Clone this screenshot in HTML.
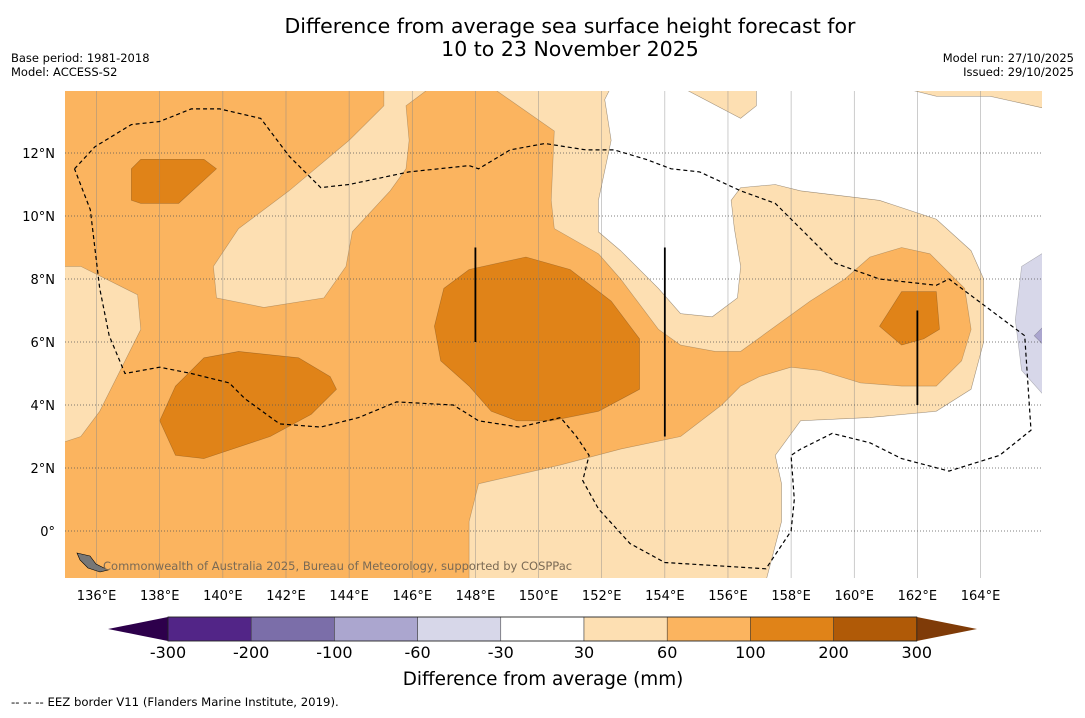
<!DOCTYPE html>
<html><head><meta charset="utf-8"><style>
body{margin:0;background:#fff;font-family:"Liberation Sans",sans-serif;}
svg text{font-family:"DejaVu Sans","Liberation Sans",sans-serif;}
</style></head><body>
<svg id="s" width="1085" height="713" xmlns="http://www.w3.org/2000/svg">
<rect width="1085" height="713" fill="#fff"/>
<text x="570" y="33" text-anchor="middle" font-size="20.5">Difference from average sea surface height forecast for</text>
<text x="570" y="56" text-anchor="middle" font-size="20.5">10 to 23 November 2025</text>
<text x="11" y="62" font-size="11.5">Base period: 1981-2018</text>
<text x="11" y="76" font-size="11.5">Model: ACCESS-S2</text>
<text x="1074" y="62" font-size="11.5" text-anchor="end">Model run: 27/10/2025</text>
<text x="1074" y="76" font-size="11.5" text-anchor="end">Issued: 29/10/2025</text>
<defs><clipPath id="mc"><rect x="65" y="91" width="977" height="487"/></clipPath></defs>
<g id="map" clip-path="url(#mc)"></g>
<g id="axes"></g>
<g id="cbar"></g>
<text x="543" y="685" text-anchor="middle" font-size="18.4">Difference from average (mm)</text>
<text x="11" y="706" font-size="11.7">--  --  -- EEZ border V11 (Flanders Marine Institute, 2019).</text>
</svg>
<script>
const lonTicks=[136,138,140,142,144,146,148,150,152,154,156,158,160,162,164];
const latTicks=[0,2,4,6,8,10,12];
const cbLevels=[-300,-200,-100,-60,-30,30,60,100,200,300];
const cbColors=["#522587","#7b6ea9","#aba6cf","#d7d7e9","#ffffff","#fddfb2","#fbb45f","#e08318","#b05a07"];
const cbExtLow="#2d004b", cbExtHigh="#7f3b08";
const lightRegions=[
[[134.9,8.4],[135.5,8.4],[137.3,7.5],[137.4,6.4],[136.1,3.8],[135.5,3.0],[134.9,2.8]],
[[139.7,8.4],[139.8,7.4],[141.3,7.1],[143.2,7.4],[143.9,8.4],[144.1,9.5],[145.3,10.8],[145.8,11.5],[145.9,12.4],[145.8,13.5],[146.6,14.1],[145.1,14.1],[145.1,13.5],[144.0,12.4],[142.1,10.8],[140.5,9.6]],
[[148.5,14.1],[150.5,12.7],[150.4,10.5],[150.5,9.6],[151.9,8.8],[152.6,8.0],[153.8,6.4],[154.5,5.9],[155.6,5.7],[156.4,5.7],[157.5,6.5],[158.6,7.3],[159.7,8.0],[160.5,8.7],[161.5,9.0],[162.4,8.8],[163.5,7.7],[163.7,6.4],[163.4,5.4],[162.6,4.6],[161.5,4.6],[160.2,4.7],[158.9,5.1],[158.0,5.2],[157.0,4.9],[156.4,4.6],[155.8,4.0],[154.5,3.0],[152.6,2.6],[150.7,2.1],[148.1,1.5],[147.8,0.3],[147.8,-1.6],[157.2,-1.6],[157.7,0.3],[157.7,1.5],[157.5,2.4],[158.3,3.5],[160.5,3.6],[162.6,3.8],[163.7,4.5],[164.1,6.0],[164.1,8.0],[163.7,8.9],[162.6,9.9],[160.8,10.5],[158.3,10.8],[157.5,11.0],[156.4,10.9],[156.1,10.5],[156.2,9.6],[156.4,8.4],[156.3,7.4],[155.5,6.8],[154.5,6.9],[153.8,7.7],[152.6,8.9],[151.9,9.5],[151.9,10.5],[152.3,12.4],[152.1,13.7],[152.3,14.1]],
[[154.5,14.1],[156.4,13.1],[156.9,13.5],[156.9,14.1]],
[[161.4,14.1],[162.6,13.8],[164.3,13.8],[166.1,13.4],[166.1,14.1]]];
const whiteRegions=[
[[152.3,14.1],[152.1,13.7],[152.3,12.4],[151.9,10.5],[151.9,9.5],[152.6,8.9],[153.8,7.7],[154.5,6.9],[155.5,6.8],[156.3,7.4],[156.4,8.4],[156.2,9.6],[156.1,10.5],[156.4,10.9],[157.5,11.0],[158.3,10.8],[160.8,10.5],[162.6,9.9],[163.7,8.9],[164.1,8.0],[164.1,6.0],[163.7,4.5],[162.6,3.8],[160.5,3.6],[158.3,3.5],[157.5,2.4],[157.7,1.5],[157.7,0.3],[157.2,-1.6],[166.1,-1.6],[166.1,13.4],[164.3,13.8],[162.6,13.8],[161.4,14.1],[156.9,14.1],[156.9,13.5],[156.4,13.1],[154.5,14.1]]];
const darkRegions=[
[[137.1,11.5],[137.4,11.8],[139.4,11.8],[139.8,11.5],[138.6,10.4],[137.4,10.4],[137.1,10.5]],
[[138.0,3.5],[138.5,4.6],[139.4,5.5],[140.5,5.7],[142.4,5.5],[143.4,4.9],[143.6,4.5],[142.8,3.7],[141.5,3.0],[139.4,2.3],[138.5,2.4]],
[[147.0,7.7],[147.8,8.3],[149.6,8.7],[151.0,8.3],[152.3,7.3],[153.2,6.1],[153.2,4.5],[151.9,3.8],[150.4,3.5],[149.3,3.5],[148.5,3.8],[147.8,4.6],[146.9,5.4],[146.7,6.5]],
[[160.8,6.5],[161.5,7.6],[162.6,7.6],[162.7,6.4],[162.2,6.1],[161.5,5.9]]];
const blueRegions=[[[166.1,8.9],[165.3,8.4],[165.1,6.7],[165.3,5.1],[166.1,4.2]]];
const purpleRegions=[[[166.1,6.6],[165.7,6.2],[166.1,5.8]]];
const eezLine=[[135.3,11.5],[135.95,12.2],[137.1,12.9],[138.0,13.0],[139.0,13.4],[139.9,13.4],[141.2,13.1],[142.1,11.9],[143.1,10.9],[144.0,11.0],[145.9,11.4],[147.8,11.6],[148.1,11.5],[149.1,12.1],[150.2,12.3],[151.5,12.1],[152.4,12.1],[153.4,11.8],[154.2,11.5],[155.1,11.4],[156.4,10.8],[157.5,10.4],[158.3,9.6],[159.4,8.5],[160.8,8.0],[162.6,7.8],[163.0,8.0],[165.4,6.2],[165.6,3.2],[164.6,2.4],[163.0,1.9],[161.5,2.3],[160.5,2.8],[159.3,3.1],[158.3,2.6],[158.0,2.4],[158.1,1.0],[158.0,0.0],[157.2,-1.2],[154.0,-1.0],[152.9,-0.4],[151.9,0.7],[151.4,1.6],[151.6,2.4],[151.2,3.0],[150.7,3.6],[149.4,3.3],[148.1,3.5],[147.3,4.0],[145.5,4.1],[144.3,3.6],[143.1,3.3],[141.8,3.4],[140.7,4.2],[140.2,4.7],[139.0,5.0],[138.0,5.2],[136.9,5.0],[136.4,6.2],[136.1,7.7],[135.8,10.2],[135.3,11.5]];
const vLines=[[148,9.0,6.0],[154,9.0,3.0],[162,7.0,4.0]];

const NS="http://www.w3.org/2000/svg";
const X=lon=>65+(lon-135)*31.57;
const Y=lat=>531-lat*31.5;
function mk(tag,attrs,parent){const e=document.createElementNS(NS,tag);for(const k in attrs)e.setAttribute(k,attrs[k]);parent.appendChild(e);return e;}
const map=document.getElementById('map');
mk('rect',{x:65,y:91,width:977,height:487,fill:cbColors[6]},map);
function pts(a){return a.map(p=>X(p[0]).toFixed(1)+','+Y(p[1]).toFixed(1)).join(' ');}
function regions(list,fill,name){list.forEach(r=>{const e=mk('polygon',{points:pts(r),fill:fill,stroke:'rgba(0,0,0,0.25)','stroke-width':0.6},map);

});}
regions(lightRegions,cbColors[5],'contour-30-60');
regions(whiteRegions,cbColors[4],'contour-near-zero');
regions(darkRegions,cbColors[7],'contour-100-200');
regions(blueRegions,cbColors[3],'contour-neg-30-60');
regions(purpleRegions,cbColors[2],'contour-neg-60-100');
lonTicks.forEach(l=>{const g=mk('line',{x1:X(l),x2:X(l),y1:91,y2:578,stroke:'#888','stroke-width':0.6,'stroke-opacity':0.7},map);

});
latTicks.forEach(l=>{const g=mk('line',{x1:65,x2:1042,y1:Y(l),y2:Y(l),stroke:'#555','stroke-width':0.7,'stroke-dasharray':'1,2'},map);

});
const ez=mk('polyline',{points:pts(eezLine),fill:'none',stroke:'#000','stroke-width':1.2,'stroke-dasharray':'4,3'},map);


vLines.forEach(v=>{const e=mk('line',{x1:X(v[0]),x2:X(v[0]),y1:Y(v[1]),y2:Y(v[2]),stroke:'#000','stroke-width':1.8},map);

});
const isl=mk('polygon',{points:'77,553 90,556 96,564 108,570 100,572 88,568 80,560',fill:'#777',stroke:'#000','stroke-width':0.6},map);


const cp=mk('text',{x:103,y:570,'font-size':11.5,fill:'#7a6a55'},map);cp.textContent='Commonwealth of Australia 2025, Bureau of Meteorology, supported by COSPPac';


const ax=document.getElementById('axes');
lonTicks.forEach(l=>{const t=mk('text',{x:X(l),y:600,'text-anchor':'middle','font-size':13},ax);t.textContent=l+'°E';

});
latTicks.forEach(l=>{const t=mk('text',{x:55,y:Y(l)+5,'text-anchor':'end','font-size':13},ax);t.textContent=l===0?'0°':l+'°N';

});
const cb=document.getElementById('cbar');
const cx0=168,cw=83.2,cy=617,ch=24;
const lo=mk('polygon',{points:`${cx0},${cy} ${cx0},${cy+ch} 108,${cy+ch/2}`,fill:cbExtLow},cb);


const n=cbColors.length;
const hi=mk('polygon',{points:`${cx0+n*cw},${cy} ${cx0+n*cw},${cy+ch} 977,${cy+ch/2}`,fill:cbExtHigh},cb);


cbColors.forEach((c,i)=>{const r=mk('rect',{x:cx0+i*cw,y:cy,width:cw,height:ch,fill:c,stroke:'#333','stroke-width':0.5},cb);

});
mk('rect',{x:cx0,y:cy,width:n*cw,height:ch,fill:'none',stroke:'#222','stroke-width':0.8},cb);
cbLevels.forEach((v,i)=>{const t=mk('text',{x:cx0+i*cw,y:658,'text-anchor':'middle','font-size':16},cb);t.textContent=v;

});
</script>
</body></html>
